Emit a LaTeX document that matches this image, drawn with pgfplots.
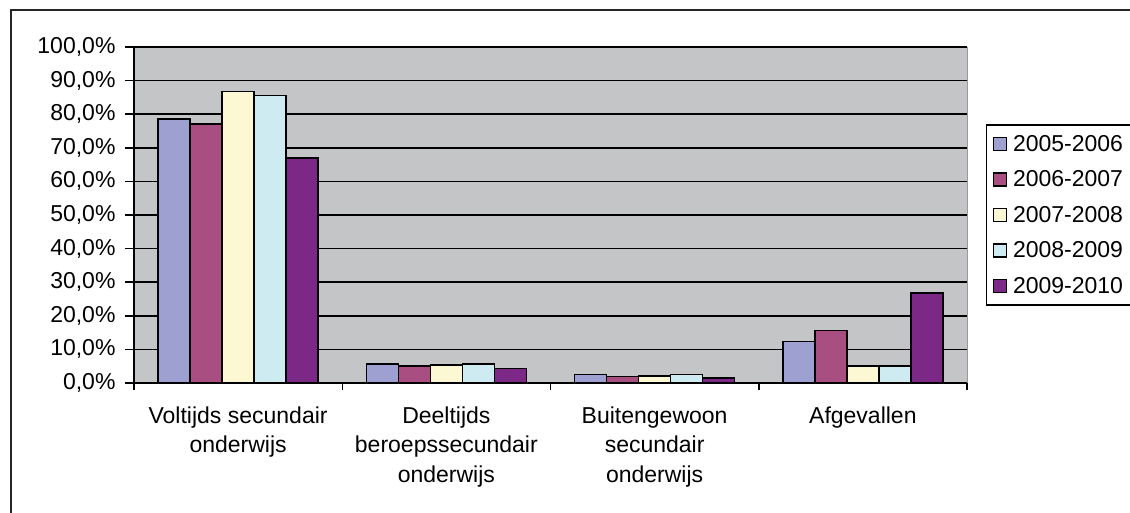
\documentclass[border=0pt]{standalone}
\usepackage{pgfplots}
\pgfplotsset{compat=1.18}
\usepackage{fontspec}
\setmainfont{Liberation Sans}
\definecolor{cA}{HTML}{9EA0D2}
\definecolor{cB}{HTML}{A84E80}
\definecolor{cC}{HTML}{FCF8D4}
\definecolor{cD}{HTML}{CFEBF2}
\definecolor{cE}{HTML}{7B2886}
\definecolor{bg}{HTML}{C3C5C7}
\begin{document}
\begin{tikzpicture}[x=1pt,y=1pt,font=\fontsize{23pt}{29pt}\selectfont]
\useasboundingbox (0,0) rectangle (1130,-512);
\clip (0,0) rectangle (1130,-512);
\draw[line width=1.5pt, black!85] (11,-10) rectangle (1160,-540);
\begin{axis}[
  at={(134pt,-383pt)}, anchor=south west,
  scale only axis, width=833pt, height=336pt,
  ybar=0pt, bar width=32pt,
  xmin=-0.5, xmax=3.5, ymin=0, ymax=100,
  xtick={0,1,2,3},
  xticklabels={{Voltijds secundair\\onderwijs},{Deeltijds\\beroepssecundair\\onderwijs},{Buitengewoon\\secundair\\onderwijs},{Afgevallen}},
  xticklabel style={align=center, anchor=north, yshift=-11pt, font=\fontsize{23pt}{29.5pt}\selectfont},
  major x tick style={draw=none},
  minor xtick={-0.5,0.5,1.5,2.5,3.5},
  minor tick length=7pt,
  major tick length=9pt,
  tick align=outside,
  tick style={black, line width=1.5pt},
  ytick={0,10,...,100},
  /pgf/number format/assume math mode=true,
  yticklabel={\pgfmathprintnumber[fixed,fixed zerofill,precision=1,use comma]{\tick}\%},
  yticklabel style={font=\fontsize{23pt}{27pt}\selectfont, xshift=-6pt},
  ymajorgrids, major grid style={black, line width=1.5pt},
  axis x line*=bottom, axis y line*=left,
  axis line style={black, line width=1.5pt, -},
  axis background/.style={fill=bg, draw=gray!80, line width=1pt},
  every axis plot/.append style={draw=black, line width=1.6pt},
  every axis plot post/.append style={legend image code/.code={\draw[##1, line width=1.3pt] (0pt,-6.5pt) rectangle (13pt,6.5pt);}},
  legend style={at={(rel axis cs:1.0228,0.5)}, anchor=west, draw=black, line width=1.5pt, fill=white,
    font=\fontsize{23pt}{27pt}\selectfont, row sep=14pt, inner xsep=6pt, inner ysep=8pt,
    /tikz/every odd column/.append style={column sep=4pt}},
  legend cell align=left,
]
\addplot[fill=cA] coordinates {(0,78.6) (1,5.7) (2,2.5) (3,12.3)};
\addplot[fill=cB] coordinates {(0,77.1) (1,5.1) (2,1.9) (3,15.6)};
\addplot[fill=cC] coordinates {(0,86.7) (1,5.3) (2,2.0) (3,5.1)};
\addplot[fill=cD] coordinates {(0,85.6) (1,5.7) (2,2.5) (3,5.1)};
\addplot[fill=cE] coordinates {(0,67.0) (1,4.3) (2,1.5) (3,26.8)};
\legend{2005-2006\hspace{30pt},2006-2007,2007-2008,2008-2009,2009-2010}
\end{axis}
\end{tikzpicture}
\end{document}
